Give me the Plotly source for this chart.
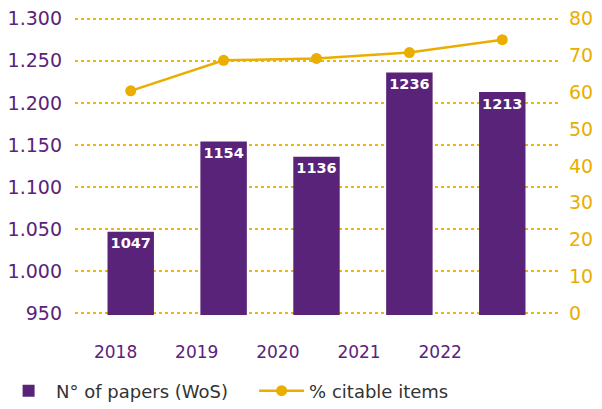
import plotly.graph_objects as go

years = ["2018", "2019", "2020", "2021", "2022"]
papers = [1047, 1154, 1136, 1236, 1213]
citable_pct = [60.4, 68.7, 69.2, 70.8, 74.3]

PURPLE = "#5A237A"
GOLD = "#E9AE00"
GRID = "#F2B800"
FONT = "DejaVu Sans"

fig = go.Figure()
# carrier for the category tick labels row (drawn on the label axis x)
fig.add_trace(go.Scatter(
    x=list(range(len(years))), y=[None] * len(years), xaxis="x", yaxis="y",
    mode="markers", showlegend=False, hoverinfo="skip",
))
fig.add_trace(go.Bar(
    x=years, y=papers, name="N° of papers (WoS)", xaxis="x2", yaxis="y",
    marker=dict(color=PURPLE, line=dict(width=0)), width=0.5,
    text=[str(v) for v in papers], textposition="inside", insidetextanchor="end",
    textangle=0, textfont=dict(color="white", size=16, family=FONT, weight="bold"),
))
fig.add_trace(go.Scatter(
    x=years, y=citable_pct, name="% citable items", xaxis="x2", yaxis="y2",
    mode="lines+markers", line=dict(color=GOLD, width=2.5),
    marker=dict(color=GOLD, size=11),
))

fig.update_layout(
    width=594, height=401,
    margin=dict(l=67, r=44, t=9, b=94, autoexpand=False),
    paper_bgcolor="white", plot_bgcolor="rgba(0,0,0,0)",
    separators=",.",
    font=dict(family=FONT, color="#333333"),
    showlegend=True,
    legend=dict(orientation="h", x=-0.153, xanchor="left",
                y=-0.255, yanchor="middle",
                font=dict(size=18, color="#333333", family=FONT),
                itemwidth=45, entrywidth=193, tracegroupgap=0),
    xaxis=dict(anchor="y", domain=[0, 0.84], range=[-0.5, 4.5],
               tickvals=list(range(len(years))), ticktext=years,
               showgrid=False, zeroline=False, showline=False, ticks="",
               tickfont=dict(size=17, color=PURPLE, family=FONT),
               ticklabelstandoff=25, ticklabeloverflow="allow"),
    xaxis2=dict(anchor="y", domain=[0, 1], type="category", range=[-0.6, 4.6],
                showticklabels=False, showgrid=False, zeroline=False,
                showline=False, ticks=""),
    yaxis=dict(anchor="x2", range=[948, 1302], dtick=50, tick0=950, tickformat=",d",
               showgrid=True, gridcolor=GRID, griddash="dot", gridwidth=2,
               zeroline=False, showline=False, ticks="",
               tickfont=dict(size=19, color=PURPLE, family=FONT),
               ticklabelstandoff=12, ticklabeloverflow="allow"),
    yaxis2=dict(anchor="x2", range=[-0.46, 80.46], dtick=10, tick0=0,
                overlaying="y", side="right",
                showgrid=False, zeroline=False, showline=False, ticks="",
                tickfont=dict(size=19, color=GOLD, family=FONT),
                ticklabelstandoff=10, ticklabeloverflow="allow"),
)

fig.write_html("out.html")
